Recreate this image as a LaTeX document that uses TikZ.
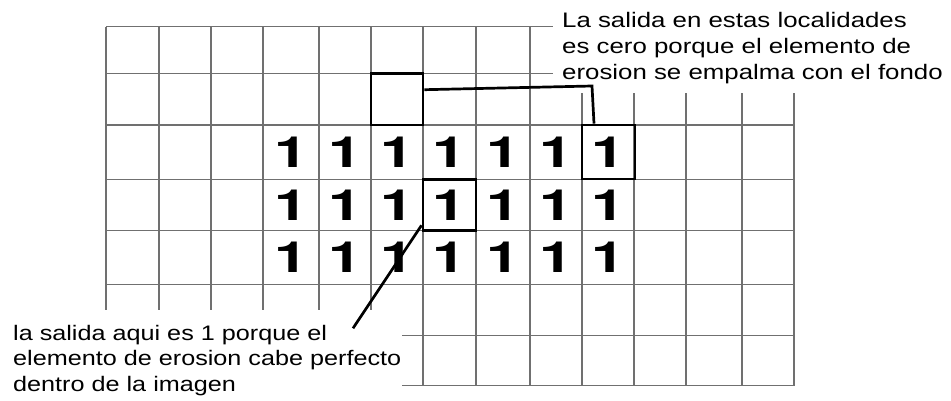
\documentclass[tikz,border=0pt]{standalone}
\usepackage{fontspec}
\setmainfont{Liberation Sans}
\newfontfamily\digitfont{TeX Gyre Heros}
\definecolor{gridgray}{RGB}{112,112,112}
\newcommand\wideone{\scalebox{1.4}[1]{1}}
\begin{document}
\begin{tikzpicture}[x=1pt,y=-1pt,
  gridline/.style={draw=gridgray,line width=1.4pt},
  one/.style={inner sep=0pt,font=\digitfont\fontsize{43}{43}\selectfont\bfseries},
  selbox/.style={draw=black,line width=2.9pt,inner sep=0pt,fill=none},
  lead/.style={draw=black,line width=2.7pt},
  note/.style={inner sep=0pt,anchor=north west,font=\fontsize{21}{25.6}\selectfont}]
\useasboundingbox (0,0) rectangle (951,400);

% vertical grid lines
\foreach \x in {106,159,211,263,319,371} \draw[gridline] (\x,26.7) -- (\x,310);
\foreach \x in {423,476,530} \draw[gridline] (\x,26.7) -- (\x,385.7);
\foreach \x in {582,634,686,742,794} \draw[gridline] (\x,93) -- (\x,385.7);
% horizontal grid lines
\foreach \y in {26.7,73.3} \draw[gridline] (106,\y) -- (553,\y);
\foreach \y in {125,179.3,230.7,284.3} \draw[gridline] (106,\y) -- (794,\y);
\foreach \y in {335.7,385.7} \draw[gridline] (402,\y) -- (794,\y);

% the foreground pixels
\foreach \cx [count=\i] in {291,345,397,449.5,503,556,608}
  \foreach \cy [count=\j] in {152.2,205,257.5}
    \node[one] (one-\i-\j) at (\cx,\cy) {\wideone};

% structuring element positions
\node[selbox,minimum width=52pt,minimum height=51.7pt] (bg) at (397,99.15) {};
\node[selbox,minimum width=53pt,minimum height=54pt] (fb) at (608.5,152) {};
\node[selbox,minimum width=53pt,minimum height=51.4pt] (cb) at (449.5,205) {};

% annotations
\node[note] (topnote) at (562,9.8) {\scalebox{1.23}[1]{\begin{tabular}{@{}l@{}}La salida en estas localidades\\es cero porque el elemento de\\erosion se empalma con el fondo\end{tabular}}};
\node[note] (botnote) at (13,322.1) {\scalebox{1.2}[1]{\begin{tabular}{@{}l@{}}la salida aqui es 1 porque el\\elemento de erosion cabe perfecto\\dentro de la imagen\end{tabular}}};

\coordinate (bend) at (592,86);
\coordinate (tip) at (353,328.3);
\draw[lead] (bg.19) -- (bend) -- (fb.117);
\draw[lead] (cb.216) -- (tip);
\end{tikzpicture}
\end{document}
